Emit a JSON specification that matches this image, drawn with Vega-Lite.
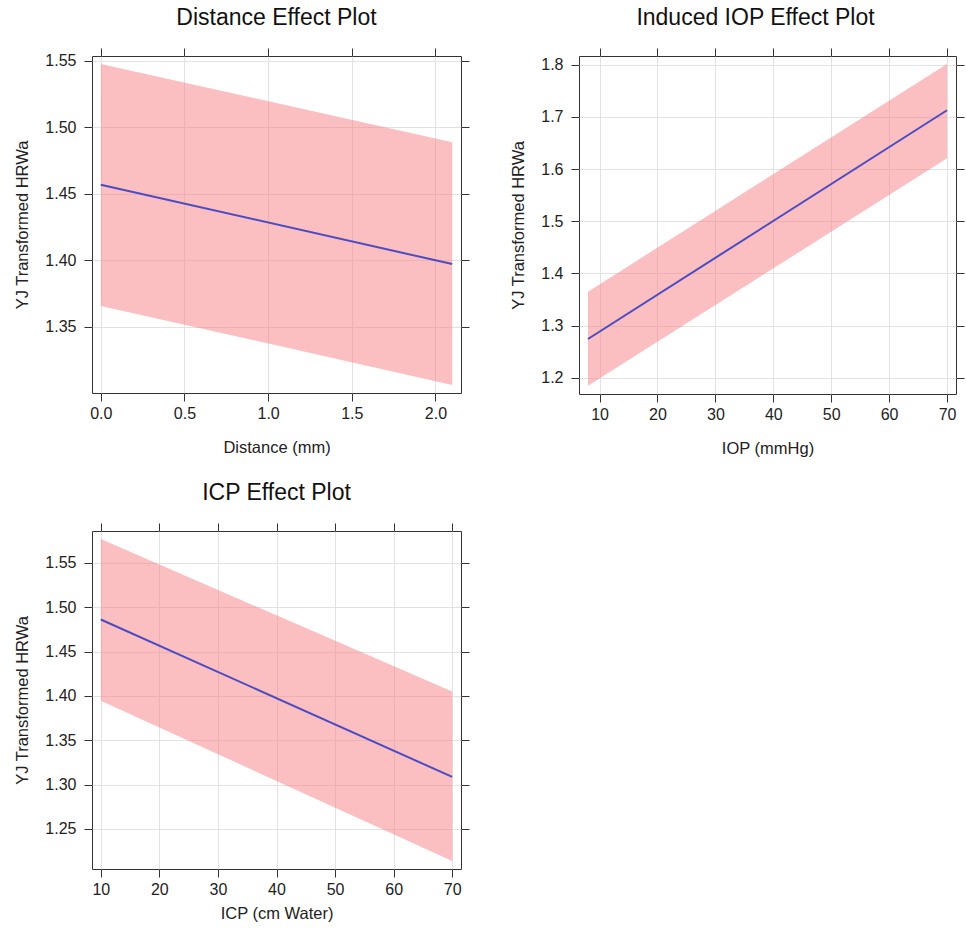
{
  "$schema": "https://vega.github.io/schema/vega-lite/v6.json",
  "padding": {"left": 14, "top": 6, "right": 5, "bottom": 5},
  "config": {
    "font": "Liberation Sans",
    "view": {"stroke": "#333333", "strokeWidth": 1},
    "axis": {
      "domain": false,
      "tickColor": "#333333",
      "tickSize": 8,
      "labelFontSize": 16,
      "labelColor": "#222222",
      "titleFontSize": 16.5,
      "titleFontWeight": "normal",
      "titleColor": "#222222",
      "gridColor": "#e2e2e2",
      "gridWidth": 1
    },
    "title": {"fontSize": 23, "fontWeight": "normal", "color": "#111111", "anchor": "middle", "offset": 18}
  },
  "datasets": {
    "distance": [
      {"x": 0, "fit": 1.4567, "lo": 1.3655, "hi": 1.5475},
      {"x": 2.1, "fit": 1.397, "lo": 1.3061, "hi": 1.4887}
    ],
    "iop": [
      {"x": 8, "fit": 1.2744, "lo": 1.1846, "hi": 1.365},
      {"x": 70, "fit": 1.7128, "lo": 1.6206, "hi": 1.8013}
    ],
    "icp": [
      {"x": 10, "fit": 1.4862, "lo": 1.3944, "hi": 1.5769},
      {"x": 70, "fit": 1.3086, "lo": 1.2138, "hi": 1.4049}
    ]
  },
  "spacing": 24,
  "vconcat": [
    {
      "spacing": 40,
      "hconcat": [
        {
          "title": {"text": "Distance Effect Plot"},
          "width": 369,
          "height": 337,
          "data": {"name": "distance"},
          "resolve": {"axis": {"x": "independent", "y": "independent"}},
          "layer": [
            {
              "mark": {"type": "area", "color": "#f77f85", "opacity": 0.5},
              "encoding": {
                "x": {"field": "x", "type": "quantitative", "scale": {"domain": [-0.0525, 2.1525], "nice": false, "zero": false},
                  "axis": {"title": "Distance (mm)", "values": [0, 0.5, 1, 1.5, 2], "format": ".1f", "labelPadding": 4, "titlePadding": 18}},
                "y": {"field": "lo", "type": "quantitative", "scale": {"domain": [1.3, 1.5535], "nice": false, "zero": false},
                  "axis": {"title": "YJ Transformed HRWa", "values": [1.35, 1.4, 1.45, 1.5, 1.55], "format": ".2f", "labelPadding": 8, "titlePadding": 14}},
                "y2": {"field": "hi"}
              }
            },
            {
              "mark": {"type": "line", "color": "#4b4bc3", "strokeWidth": 2},
              "encoding": {
                "x": {"field": "x", "type": "quantitative",
                  "axis": {"orient": "top", "title": null, "labels": false, "grid": false, "values": [0, 0.5, 1, 1.5, 2]}},
                "y": {"field": "fit", "type": "quantitative",
                  "axis": {"orient": "right", "title": null, "labels": false, "grid": false, "values": [1.35, 1.4, 1.45, 1.5, 1.55]}}
              }
            }
          ]
        },
        {
          "title": {"text": "Induced IOP Effect Plot", "dx": -12},
          "width": 377,
          "height": 338,
          "data": {"name": "iop"},
          "resolve": {"axis": {"x": "independent", "y": "independent"}},
          "layer": [
            {
              "mark": {"type": "area", "color": "#f77f85", "opacity": 0.5},
              "encoding": {
                "x": {"field": "x", "type": "quantitative", "scale": {"domain": [6.45, 71.55], "nice": false, "zero": false},
                  "axis": {"title": "IOP (mmHg)", "values": [10, 20, 30, 40, 50, 60, 70], "labelPadding": 4, "titlePadding": 18}},
                "y": {"field": "lo", "type": "quantitative", "scale": {"domain": [1.169, 1.8167], "nice": false, "zero": false},
                  "axis": {"title": "YJ Transformed HRWa", "values": [1.2, 1.3, 1.4, 1.5, 1.6, 1.7, 1.8], "format": ".1f", "labelPadding": 8, "titlePadding": 14}},
                "y2": {"field": "hi"}
              }
            },
            {
              "mark": {"type": "line", "color": "#4b4bc3", "strokeWidth": 2},
              "encoding": {
                "x": {"field": "x", "type": "quantitative",
                  "axis": {"orient": "top", "title": null, "labels": false, "grid": false, "values": [10, 20, 30, 40, 50, 60, 70]}},
                "y": {"field": "fit", "type": "quantitative",
                  "axis": {"orient": "right", "title": null, "labels": false, "grid": false, "values": [1.2, 1.3, 1.4, 1.5, 1.6, 1.7, 1.8]}}
              }
            }
          ]
        }
      ]
    },
    {
      "title": {"text": "ICP Effect Plot"},
      "width": 369,
      "height": 338,
      "data": {"name": "icp"},
      "resolve": {"axis": {"x": "independent", "y": "independent"}},
      "layer": [
        {
          "mark": {"type": "area", "color": "#f77f85", "opacity": 0.5},
          "encoding": {
            "x": {"field": "x", "type": "quantitative", "scale": {"domain": [8.5, 71.5], "nice": false, "zero": false},
              "axis": {"title": "ICP (cm Water)", "values": [10, 20, 30, 40, 50, 60, 70], "labelPadding": 4, "titlePadding": 8}},
            "y": {"field": "lo", "type": "quantitative", "scale": {"domain": [1.2047, 1.586], "nice": false, "zero": false},
              "axis": {"title": "YJ Transformed HRWa", "values": [1.25, 1.3, 1.35, 1.4, 1.45, 1.5, 1.55], "format": ".2f", "labelPadding": 8, "titlePadding": 14}},
            "y2": {"field": "hi"}
          }
        },
        {
          "mark": {"type": "line", "color": "#4b4bc3", "strokeWidth": 2},
          "encoding": {
            "x": {"field": "x", "type": "quantitative",
              "axis": {"orient": "top", "title": null, "labels": false, "grid": false, "values": [10, 20, 30, 40, 50, 60, 70]}},
            "y": {"field": "fit", "type": "quantitative",
              "axis": {"orient": "right", "title": null, "labels": false, "grid": false, "values": [1.25, 1.3, 1.35, 1.4, 1.45, 1.5, 1.55]}}
          }
        }
      ]
    }
  ]
}
